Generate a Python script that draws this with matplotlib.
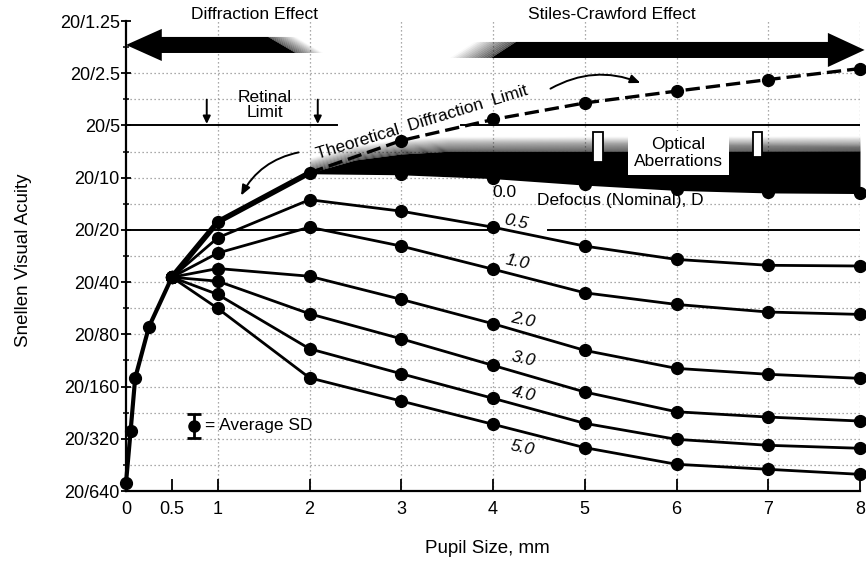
import numpy as np
import matplotlib
matplotlib.use('Agg')
import matplotlib.pyplot as plt
from matplotlib.patches import Polygon, FancyArrowPatch

plt.rcParams['font.family'] = ['Liberation Sans', 'DejaVu Sans']

# ---- data: Snellen acuity given as denominator D of 20/D ----
early_pupil = [0.0, 0.05, 0.1, 0.25, 0.5]
early_acuity = [575, 289, 143, 72.4, 37.5]

pupil = [0.5, 1, 2, 3, 4, 5, 6, 7, 8]
defocus = ['0.0', '0.5', '1.0', '2.0', '3.0', '4.0', '5.0']
acuity_d00 = [37.5, 18.0, 9.38, 9.51, 10.0, 10.9, 11.7, 12.1, 12.2]
acuity_d05 = [37.5, 22.2, 13.4, 15.6, 19.3, 24.8, 29.6, 32.0, 32.3]
acuity_d10 = [37.5, 27.2, 19.3, 24.8, 33.7, 46.1, 53.8, 59.5, 61.4]
acuity_d20 = [37.5, 33.4, 37.0, 50.3, 69.5, 99.0, 125.7, 136.0, 143.5]
acuity_d30 = [37.5, 39.5, 60.9, 84.9, 120.8, 172.0, 223.6, 239.9, 252.8]
acuity_d40 = [37.5, 47.1, 96.9, 135.0, 187.0, 260.7, 322.4, 349.0, 363.0]
acuity_d50 = [37.5, 56.7, 142.5, 194.0, 264.0, 360.0, 449.0, 480.0, 513.0]
acuities = [acuity_d00, acuity_d05, acuity_d10, acuity_d20, acuity_d30, acuity_d40, acuity_d50]

limit_pupil = [2, 3, 4, 5, 6, 7, 8]
limit_acuity = [9.38, 6.11, 4.62, 3.71, 3.17, 2.72, 2.35]

sd_pupil = 0.74
sd_acuity = 269.5
sd_low = 230
sd_high = 316

y_ticks = [1.25, 2.5, 5, 10, 20, 40, 80, 160, 320, 640]
y_tick_labels = ['20/1.25', '20/2.5', '20/5', '20/10', '20/20', '20/40',
                 '20/80', '20/160', '20/320', '20/640']
x_ticks = [0, 0.5, 1, 2, 3, 4, 5, 6, 7, 8]
x_tick_labels = ['0', '0.5', '1', '2', '3', '4', '5', '6', '7', '8']

# ---- figure ----
fig = plt.figure(figsize=(8.66, 5.65), dpi=100)
ax = fig.add_axes([126 / 866, 1 - 491 / 565, 734 / 866, 470 / 565])
ax.set_xlim(0, 8)
ax.set_yscale('log', base=2)
ax.set_ylim(640, 1.25)

for s in ['top', 'right']:
    ax.spines[s].set_visible(False)
for s in ['left', 'bottom']:
    ax.spines[s].set_linewidth(1.6)

ax.set_xticks(x_ticks)
ax.set_xticklabels(x_tick_labels, fontsize=13)
ax.set_yticks(y_ticks)
ax.set_yticklabels(y_tick_labels, fontsize=13)
minor = [t * np.sqrt(2) for t in y_ticks[:-1]]
ax.set_yticks(minor, minor=True)
ax.yaxis.set_minor_formatter(matplotlib.ticker.NullFormatter())
ax.tick_params(axis='x', direction='in', length=9, width=1.3, pad=7)
ax.tick_params(axis='y', which='major', direction='inout', length=7, width=1.3, pad=1)
ax.tick_params(axis='y', which='minor', direction='inout', length=5, width=1.1)

ax.set_ylabel('Snellen Visual Acuity', fontsize=13.5)
ax.yaxis.set_label_coords(-0.128, 0.49)
ax.set_xlabel('Pupil Size, mm', fontsize=13.5)
ax.xaxis.set_label_coords(0.492, -0.105)

# dotted grid
grid_kw = dict(color='#8f8f8f', lw=0.9, ls=(0, (1, 2.2)), zorder=0.5)
for t in y_ticks[1:] + minor[1:]:
    if t in (5, 20):
        continue
    ax.axhline(t, **grid_kw)
for t in x_ticks[2:]:
    ax.axvline(t, **grid_kw)

# solid reference lines (20/5 and 20/20)
ax.plot([0, 2.3], [5, 5], color='k', lw=1.4, zorder=1)
ax.plot([3.65, 8], [5, 5], color='k', lw=1.4, zorder=1)
ax.plot([0, 4.05], [20, 20], color='k', lw=1.4, zorder=1)
ax.plot([4.6, 8], [20, 20], color='k', lw=1.4, zorder=1)

# optical aberration band above the 0.0 D curve
xs = np.linspace(2, 8, 400)
curve = 2 ** np.interp(xs, pupil, np.log2(acuity_d00))
top = 2 ** np.interp(xs, [2, 2.5, 3, 3.5, 8], np.log2([9.38, 7.9, 7.3, 7.05, 7.0]))
ax.fill_between(xs, curve, top, color='k', lw=0, zorder=2)
nfade = 14
step = 2 ** (15 / 52.1 / nfade)
for k in range(nfade):
    a = 0.75 * (1 - (k + 0.5) / nfade)
    ax.fill_between(xs, top / step ** k, top / step ** (k + 1), color='k',
                    alpha=a, lw=0, zorder=2)

# curves
for acu in acuities:
    ax.plot(pupil, acu, color='k', lw=2.0, marker='o', ms=8.5, zorder=4, clip_on=False)
ax.plot(pupil[:3], acuity_d00[:3], color='k', lw=4.0, zorder=4, solid_capstyle='round')
ax.plot(early_pupil, early_acuity, color='k', lw=3.0, marker='o', ms=8.5, zorder=4,
        clip_on=False)

# theoretical diffraction limit
ax.plot(limit_pupil, limit_acuity, color='k', lw=2.4, ls=(0, (4.3, 1.8)), zorder=5)
ax.plot(limit_pupil[1:], limit_acuity[1:], 'o', color='k', ms=8.5, zorder=5, clip_on=False)

# average SD symbol
ax.errorbar([sd_pupil], [sd_acuity],
            yerr=[[sd_acuity - sd_low], [sd_high - sd_acuity]],
            fmt='o', color='k', ms=8, lw=2, capsize=5, capthick=2, zorder=5)
ax.text(sd_pupil + 0.12, sd_acuity, '= Average SD', fontsize=12.5, va='center', ha='left')

# big arrows ---------------------------------------------------------
def add_fade(xt, xb, ytop, ybot, width, n, sign, amax):
    for i in range(n):
        o0 = sign * width * i / n
        o1 = sign * width * (i + 1) / n
        a = amax * (1 - (i + 0.5) / n)
        ax.add_patch(Polygon([(xt + o0, ytop), (xt + o1, ytop), (xb + o1, ybot), (xb + o0, ybot)],
                             closed=True, fc='k', ec='none', alpha=a, zorder=3, clip_on=False))

# Diffraction effect arrow (left)
yc = 1.718
sh, hh = 2 ** (8 / 52.1), 2 ** (16 / 52.1)
ax.add_patch(Polygon([(0, yc), (0.39, yc / hh), (0.39, yc / sh), (1.55, yc / sh),
                      (1.85, yc * sh), (0.39, yc * sh), (0.39, yc * hh)],
                     closed=True, fc='k', ec='none', zorder=3, clip_on=False))
add_fade(1.55, 1.85, yc / sh, yc * sh, 0.3, 14, +1, 0.7)
ax.text(1.40, 1.15, 'Diffraction Effect', fontsize=12.5, ha='center', va='center')

# Stiles-Crawford effect arrow (right)
yc2 = 1.836
hh2 = 2 ** (17 / 52.1)
ax.add_patch(Polygon([(8.05, yc2), (7.65, yc2 / hh2), (7.65, yc2 / sh), (4.25, yc2 / sh),
                      (3.98, yc2 * sh), (7.65, yc2 * sh), (7.65, yc2 * hh2)],
                     closed=True, fc='k', ec='none', zorder=3, clip_on=False))
add_fade(4.25, 3.98, yc2 / sh, yc2 * sh, 0.45, 14, -1, 0.7)
ax.text(5.30, 1.15, 'Stiles-Crawford Effect', fontsize=12.5, ha='center', va='center')

# retinal limit
ax.text(1.515, 3.82, 'Retinal\nLimit', fontsize=12.5, ha='center', va='center', linespacing=1.05)
for xa in (0.88, 2.09):
    ax.annotate('', xy=(xa, 4.9), xytext=(xa, 3.55),
                arrowprops=dict(arrowstyle='-|>,head_length=0.45,head_width=0.22',
                                lw=1.4, color='k', shrinkA=0, shrinkB=0))

# theoretical diffraction limit label and curved arrows
ax.text(3.23, 4.79, 'Theoretical  Diffraction  Limit', fontsize=12.5, rotation=17,
        ha='center', va='center', rotation_mode='anchor')
ax.add_patch(FancyArrowPatch((1.91, 7.1), (1.24, 13.1), connectionstyle='arc3,rad=0.25',
                             arrowstyle='-|>,head_length=6,head_width=2.5', lw=1.4,
                             color='k', zorder=6))
ax.add_patch(FancyArrowPatch((4.6, 3.125), (5.635, 2.885), connectionstyle='arc3,rad=-0.25',
                             arrowstyle='-|>,head_length=6,head_width=2.5', lw=1.4,
                             color='k', zorder=6))

# optical aberrations box and bracket legs
for xl, xr, yb in ((5.09, 5.2, 8.1), (6.83, 6.93, 7.6)):
    ax.add_patch(Polygon([(xl, 5.47), (xr, 5.47), (xr, yb), (xl, yb)], closed=True,
                         fc='white', ec='k', lw=1.3, zorder=6))
ax.text(6.02, 7.2, 'Optical\nAberrations', fontsize=12.5, ha='center', va='center',
        linespacing=1.1, zorder=7,
        bbox=dict(boxstyle='square,pad=0.35', fc='white', ec='none'))

# defocus labels
ax.text(4.12, 12.1, '0.0', fontsize=12.5, ha='center', va='center', zorder=7)
ax.text(4.48, 13.6, 'Defocus (Nominal), D', fontsize=12.5, ha='left', va='center', zorder=7)
lab_pos = [(4.25, 18.1), (4.27, 30.8), (4.33, 65.8), (4.33, 110.5), (4.33, 176), (4.32, 361)]
for (lx, ly), lab in zip(lab_pos, defocus[1:]):
    ax.text(lx, ly, lab, fontsize=12.5, style='italic', rotation=-12, ha='center',
            va='center', zorder=7)

fig.savefig('out.png', dpi=100)
